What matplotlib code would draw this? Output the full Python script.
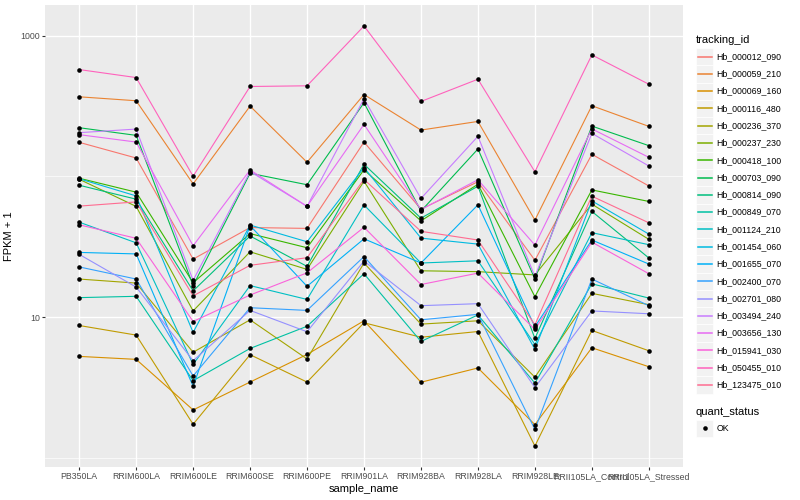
import numpy as np
import matplotlib
matplotlib.use("Agg")
import matplotlib.pyplot as plt
from matplotlib.lines import Line2D
from matplotlib.patches import Rectangle
from matplotlib.ticker import FixedLocator, NullFormatter

plt.rcParams['font.family'] = ['Liberation Sans', 'DejaVu Sans']

samples = ['PB350LA', 'RRIM600LA', 'RRIM600LE', 'RRIM600SE', 'RRIM600PE', 'RRIM901LA',
           'RRIM928BA', 'RRIM928LA', 'RRIM928LE', 'RRII105LA_Control', 'RRII105LA_Stressed']

tracking_ids = ['Hb_000012_090', 'Hb_000059_210', 'Hb_000069_160', 'Hb_000116_480',
                'Hb_000236_370', 'Hb_000237_230', 'Hb_000418_100', 'Hb_000703_090',
                'Hb_000814_090', 'Hb_000849_070', 'Hb_001124_210', 'Hb_001454_060',
                'Hb_001655_070', 'Hb_002400_070', 'Hb_002701_080', 'Hb_003494_240',
                'Hb_003656_130', 'Hb_015941_030', 'Hb_050455_010', 'Hb_123475_010']

# ggplot hue palette, 20 levels
colors = ['#F8766D', '#EA8331', '#D89000', '#C09B00', '#A3A500', '#7CAE00', '#39B600',
          '#00BB4E', '#00BF7D', '#00C1A3', '#00BFC4', '#00BAE0', '#00B0F6', '#35A2FF',
          '#9590FF', '#C77CFF', '#E76BF3', '#FA62DB', '#FF62BC', '#FF6C91']

# FPKM + 1, one value per sample
hb_000012_090 = [174.8, 135.3, 25.9, 43.4, 42.8, 175.6, 58.6, 91.8, 25.4, 143.7, 85.7]
hb_000059_210 = [368, 345, 88.6, 316, 126.2, 382, 213.6, 246, 49.0, 318, 226.9]
hb_000069_160 = [5.28, 5.03, 2.20, 3.47, 5.45, 9.45, 3.46, 4.37, 1.73, 6.08, 4.46]
hb_000116_480 = [8.75, 7.48, 1.74, 5.43, 3.47, 9.15, 7.22, 7.93, 1.22, 8.07, 5.79]
hb_000236_370 = [18.7, 17.5, 5.65, 9.6, 5.06, 24.3, 8.95, 9.45, 3.76, 14.8, 12.3]
hb_000237_230 = [95.6, 61.3, 11.1, 29.2, 21.9, 92.5, 21.4, 21.1, 20.0, 63.6, 35.8]
hb_000418_100 = [97.2, 77.4, 17.6, 39.3, 31.2, 111.6, 48.4, 88.1, 14.0, 80.3, 66.5]
hb_000703_090 = [222, 195.9, 16.8, 105.4, 87.4, 333.8, 56.8, 156.7, 18.7, 228, 165.6]
hb_000814_090 = [86.7, 69.0, 15.4, 37.8, 23.0, 122.1, 50.6, 85.3, 7.08, 56.5, 26.4]
hb_000849_070 = [13.8, 14.1, 3.55, 6.01, 8.64, 20.4, 6.74, 10.4, 3.41, 17.3, 13.7]
hb_001124_210 = [47.4, 33.8, 4.63, 16.8, 13.4, 62.8, 24.3, 25.2, 6.41, 39.9, 32.8]
hb_001454_060 = [96.4, 72.8, 7.81, 45.2, 34.4, 115.7, 36.5, 33.1, 5.92, 67.1, 39.0]
hb_001655_070 = [28.9, 28.2, 3.24, 44.8, 16.6, 36.1, 24.3, 62.9, 8.57, 35.4, 23.9]
hb_002400_070 = [22.8, 18.7, 3.83, 11.7, 11.2, 27.0, 9.6, 10.5, 1.60, 18.7, 12.1]
hb_002701_080 = [28.0, 16.4, 4.92, 11.2, 7.90, 25.1, 12.1, 12.5, 3.17, 11.1, 10.6]
hb_003494_240 = [204.7, 217.1, 18.3, 108.4, 61.4, 356.3, 69.8, 192.8, 19.5, 202.4, 118.8]
hb_003656_130 = [198.2, 175.6, 32.2, 111.3, 61.4, 234.4, 58.2, 94.8, 32.6, 217.8, 136.8]
hb_015941_030 = [45.4, 36.4, 9.34, 14.4, 20.7, 43.6, 17.1, 20.6, 8.2, 34.2, 20.4]
hb_050455_010 = [574.5, 504, 100.4, 435.5, 440.5, 1171, 341, 490.5, 108.0, 730, 452]
hb_123475_010 = [61.6, 66.0, 14.2, 23.4, 26.5, 95.3, 40.8, 35.4, 8.85, 72.5, 46.9]

series = [hb_000012_090, hb_000059_210, hb_000069_160, hb_000116_480, hb_000236_370,
          hb_000237_230, hb_000418_100, hb_000703_090, hb_000814_090, hb_000849_070,
          hb_001124_210, hb_001454_060, hb_001655_070, hb_002400_070, hb_002701_080,
          hb_003494_240, hb_003656_130, hb_015941_030, hb_050455_010, hb_123475_010]

W, H = 800, 500
fig = plt.figure(figsize=(W / 100, H / 100), dpi=100)
ax = fig.add_axes([45 / W, 1 - 467 / H, (683 - 45) / W, (467 - 5) / H])
ax.set_facecolor('#EBEBEB')

x = np.arange(len(samples))
for vals, col in zip(series, colors):
    ax.plot(x, vals, color=col, lw=0.8, zorder=2)
for vals in series:
    ax.plot(x, vals, 'o', ms=3.3, color='black', mew=0, zorder=3)

ax.set_yscale('log')
allv = np.log10(np.concatenate([np.array(s, float) for s in series]))
lo, hi = allv.min(), allv.max()
pad = 0.05 * (hi - lo)
ax.set_ylim(10 ** (lo - pad), 10 ** (hi + pad))
ax.set_xlim(-0.6, len(samples) - 1 + 0.6)

ax.set_xticks(x)
ax.set_xticklabels(samples)
ax.yaxis.set_major_locator(FixedLocator([10, 1000]))
ax.set_yticklabels(['10', '1000'])
ax.yaxis.set_minor_locator(FixedLocator([1, 100]))
ax.yaxis.set_minor_formatter(NullFormatter())
ax.xaxis.set_minor_locator(FixedLocator([]))

ax.grid(which='major', color='white', lw=1.0, zorder=0)
ax.grid(which='minor', axis='y', color='white', lw=0.5, zorder=0)
ax.set_axisbelow(True)
for sp in ax.spines.values():
    sp.set_visible(False)
ax.tick_params(which='major', length=2.0, width=0.8, color='#333333',
               labelsize=6.3, labelcolor='#4D4D4D', pad=1.5)
ax.tick_params(which='minor', length=0)

ax.set_xlabel('sample_name', fontsize=8, labelpad=2)
ax.set_ylabel('FPKM + 1', fontsize=8, labelpad=5)


def fx(px):
    return px / W


def fy(py):
    return 1 - py / H


# legend: tracking_id
key = 17.28
fig.text(fx(696), fy(40), 'tracking_id', fontsize=8, va='center', ha='left')
top = 48
for i, (name, col) in enumerate(zip(tracking_ids, colors)):
    y0 = top + i * key
    fig.add_artist(Rectangle((fx(696), fy(y0 + key)), key / W, key / H,
                             transform=fig.transFigure, facecolor='#F2F2F2',
                             edgecolor='white', lw=0.5, zorder=1))
    yc = y0 + key / 2
    fig.add_artist(Line2D([fx(697.7), fx(711.6)], [fy(yc), fy(yc)],
                          transform=fig.transFigure, color=col, lw=1.1, zorder=3))
    fig.text(fx(716.5), fy(yc), name, fontsize=6.3, va='center', ha='left')

# legend: quant_status
fig.text(fx(696), fy(411.7), 'quant_status', fontsize=8, va='center', ha='left')
y0 = 419.7
fig.add_artist(Rectangle((fx(696), fy(y0 + key)), key / W, key / H,
                         transform=fig.transFigure, facecolor='#F2F2F2',
                         edgecolor='white', lw=0.5, zorder=1))
fig.add_artist(Line2D([fx(696 + key / 2)], [fy(y0 + key / 2)], transform=fig.transFigure,
                      marker='o', ms=3.3, color='black', mew=0, lw=0, zorder=3))
fig.text(fx(716.5), fy(y0 + key / 2), 'OK', fontsize=6.3, va='center', ha='left')

fig.savefig('out.png', dpi=100)
